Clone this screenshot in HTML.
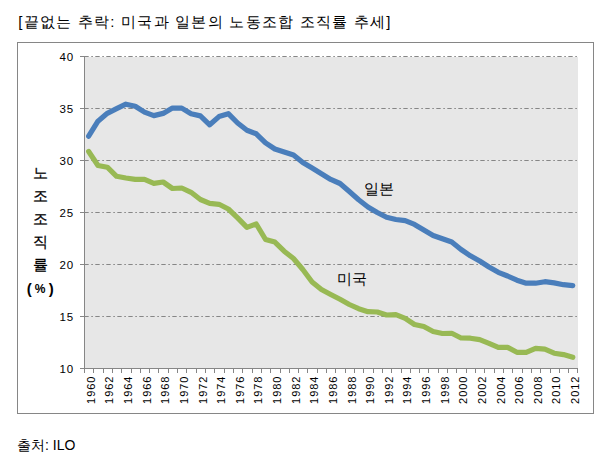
<!DOCTYPE html>
<html><head><meta charset="utf-8"><style>
html,body{margin:0;padding:0;background:#fff;width:611px;height:464px;overflow:hidden}
svg{position:absolute;left:0;top:0;font-family:"Liberation Sans",sans-serif}
</style></head><body>
<svg width="611" height="464" viewBox="0 0 611 464">
<text x="18.3" y="27.3" font-size="15" fill="#000" letter-spacing="1.24">[끝없는 추락: 미국과 일본의 노동조합 조직률 추세]</text>
<rect x="17.5" y="42.5" width="576" height="371" fill="#fff" stroke="#868686" stroke-width="1"/>
<rect x="85" y="57" width="493" height="311" fill="#e7e7e7"/>
<g stroke="#868686" stroke-width="1" stroke-dasharray="4.4 2.6 1.6 2.4"><line x1="84.3" y1="56.5" x2="578" y2="56.5" /><line x1="84.3" y1="108.5" x2="578" y2="108.5" /><line x1="84.3" y1="160.5" x2="578" y2="160.5" /><line x1="84.3" y1="212.5" x2="578" y2="212.5" /><line x1="84.3" y1="264.5" x2="578" y2="264.5" /><line x1="84.3" y1="316.5" x2="578" y2="316.5" /></g>
<g stroke="#868686" stroke-width="1">
<line x1="84.5" y1="56" x2="84.5" y2="373"/>
<line x1="80" y1="368.5" x2="578" y2="368.5"/>
<line x1="80" y1="56.5" x2="84" y2="56.5" /><line x1="80" y1="108.5" x2="84" y2="108.5" /><line x1="80" y1="160.5" x2="84" y2="160.5" /><line x1="80" y1="212.5" x2="84" y2="212.5" /><line x1="80" y1="264.5" x2="84" y2="264.5" /><line x1="80" y1="316.5" x2="84" y2="316.5" /><line x1="80" y1="368.5" x2="84" y2="368.5" /><line x1="84.5" y1="368" x2="84.5" y2="373" /><line x1="93.5" y1="368" x2="93.5" y2="373" /><line x1="103.5" y1="368" x2="103.5" y2="373" /><line x1="112.5" y1="368" x2="112.5" y2="373" /><line x1="121.5" y1="368" x2="121.5" y2="373" /><line x1="131.5" y1="368" x2="131.5" y2="373" /><line x1="140.5" y1="368" x2="140.5" y2="373" /><line x1="149.5" y1="368" x2="149.5" y2="373" /><line x1="158.5" y1="368" x2="158.5" y2="373" /><line x1="168.5" y1="368" x2="168.5" y2="373" /><line x1="177.5" y1="368" x2="177.5" y2="373" /><line x1="186.5" y1="368" x2="186.5" y2="373" /><line x1="196.5" y1="368" x2="196.5" y2="373" /><line x1="205.5" y1="368" x2="205.5" y2="373" /><line x1="214.5" y1="368" x2="214.5" y2="373" /><line x1="224.5" y1="368" x2="224.5" y2="373" /><line x1="233.5" y1="368" x2="233.5" y2="373" /><line x1="242.5" y1="368" x2="242.5" y2="373" /><line x1="252.5" y1="368" x2="252.5" y2="373" /><line x1="261.5" y1="368" x2="261.5" y2="373" /><line x1="270.5" y1="368" x2="270.5" y2="373" /><line x1="280.5" y1="368" x2="280.5" y2="373" /><line x1="289.5" y1="368" x2="289.5" y2="373" /><line x1="298.5" y1="368" x2="298.5" y2="373" /><line x1="307.5" y1="368" x2="307.5" y2="373" /><line x1="317.5" y1="368" x2="317.5" y2="373" /><line x1="326.5" y1="368" x2="326.5" y2="373" /><line x1="335.5" y1="368" x2="335.5" y2="373" /><line x1="345.5" y1="368" x2="345.5" y2="373" /><line x1="354.5" y1="368" x2="354.5" y2="373" /><line x1="363.5" y1="368" x2="363.5" y2="373" /><line x1="373.5" y1="368" x2="373.5" y2="373" /><line x1="382.5" y1="368" x2="382.5" y2="373" /><line x1="391.5" y1="368" x2="391.5" y2="373" /><line x1="401.5" y1="368" x2="401.5" y2="373" /><line x1="410.5" y1="368" x2="410.5" y2="373" /><line x1="419.5" y1="368" x2="419.5" y2="373" /><line x1="428.5" y1="368" x2="428.5" y2="373" /><line x1="438.5" y1="368" x2="438.5" y2="373" /><line x1="447.5" y1="368" x2="447.5" y2="373" /><line x1="456.5" y1="368" x2="456.5" y2="373" /><line x1="466.5" y1="368" x2="466.5" y2="373" /><line x1="475.5" y1="368" x2="475.5" y2="373" /><line x1="484.5" y1="368" x2="484.5" y2="373" /><line x1="494.5" y1="368" x2="494.5" y2="373" /><line x1="503.5" y1="368" x2="503.5" y2="373" /><line x1="512.5" y1="368" x2="512.5" y2="373" /><line x1="522.5" y1="368" x2="522.5" y2="373" /><line x1="531.5" y1="368" x2="531.5" y2="373" /><line x1="540.5" y1="368" x2="540.5" y2="373" /><line x1="550.5" y1="368" x2="550.5" y2="373" /><line x1="559.5" y1="368" x2="559.5" y2="373" /><line x1="568.5" y1="368" x2="568.5" y2="373" /><line x1="577.5" y1="368" x2="577.5" y2="373" />
</g>
<g font-size="11.5" fill="#000" letter-spacing="0.9"><text x="74" y="60.5" text-anchor="end">40</text><text x="74" y="112.5" text-anchor="end">35</text><text x="74" y="164.5" text-anchor="end">30</text><text x="74" y="216.5" text-anchor="end">25</text><text x="74" y="268.5" text-anchor="end">20</text><text x="74" y="320.5" text-anchor="end">15</text><text x="74" y="372.5" text-anchor="end">10</text></g>
<g font-size="11" fill="#000" letter-spacing="1"><text transform="translate(94.86,375.5) rotate(-90)" text-anchor="end">1960</text><text transform="translate(113.48,375.5) rotate(-90)" text-anchor="end">1962</text><text transform="translate(132.09,375.5) rotate(-90)" text-anchor="end">1964</text><text transform="translate(150.71,375.5) rotate(-90)" text-anchor="end">1966</text><text transform="translate(169.33,375.5) rotate(-90)" text-anchor="end">1968</text><text transform="translate(187.95,375.5) rotate(-90)" text-anchor="end">1970</text><text transform="translate(206.57,375.5) rotate(-90)" text-anchor="end">1972</text><text transform="translate(225.19,375.5) rotate(-90)" text-anchor="end">1974</text><text transform="translate(243.81,375.5) rotate(-90)" text-anchor="end">1976</text><text transform="translate(262.44,375.5) rotate(-90)" text-anchor="end">1978</text><text transform="translate(281.06,375.5) rotate(-90)" text-anchor="end">1980</text><text transform="translate(299.68,375.5) rotate(-90)" text-anchor="end">1982</text><text transform="translate(318.30,375.5) rotate(-90)" text-anchor="end">1984</text><text transform="translate(336.92,375.5) rotate(-90)" text-anchor="end">1986</text><text transform="translate(355.54,375.5) rotate(-90)" text-anchor="end">1988</text><text transform="translate(374.16,375.5) rotate(-90)" text-anchor="end">1990</text><text transform="translate(392.77,375.5) rotate(-90)" text-anchor="end">1992</text><text transform="translate(411.39,375.5) rotate(-90)" text-anchor="end">1994</text><text transform="translate(430.01,375.5) rotate(-90)" text-anchor="end">1996</text><text transform="translate(448.63,375.5) rotate(-90)" text-anchor="end">1998</text><text transform="translate(467.25,375.5) rotate(-90)" text-anchor="end">2000</text><text transform="translate(485.88,375.5) rotate(-90)" text-anchor="end">2002</text><text transform="translate(504.50,375.5) rotate(-90)" text-anchor="end">2004</text><text transform="translate(523.12,375.5) rotate(-90)" text-anchor="end">2006</text><text transform="translate(541.74,375.5) rotate(-90)" text-anchor="end">2008</text><text transform="translate(560.36,375.5) rotate(-90)" text-anchor="end">2010</text><text transform="translate(578.98,375.5) rotate(-90)" text-anchor="end">2012</text></g>
<g font-size="15" font-weight="normal" fill="#000" stroke="#000" stroke-width="0.25"><text x="40.5" y="178" text-anchor="middle">노</text><text x="40.5" y="201" text-anchor="middle">조</text><text x="40.5" y="224" text-anchor="middle">조</text><text x="40.5" y="247" text-anchor="middle">직</text><text x="40.5" y="270" text-anchor="middle">률</text><text x="29.3" y="293.5" text-anchor="middle" font-size="15" font-weight="bold" stroke="none">(</text><text x="40.2" y="293" text-anchor="middle" font-size="12" font-weight="bold" stroke="none">%</text><text x="51.3" y="293.5" text-anchor="middle" font-size="15" font-weight="bold" stroke="none">)</text></g>
<polyline points="88.66,136.2 97.97,121.2 107.28,113.3 116.59,108.7 125.90,104.2 135.21,106.2 144.51,112.1 153.82,115.6 163.13,113.4 172.44,108.1 181.75,108.1 191.06,113.8 200.38,115.9 209.69,124.8 219.00,116.6 228.31,113.7 237.62,123.0 246.93,130.2 256.24,133.8 265.55,142.8 274.86,149.0 284.17,152.0 293.48,155.0 302.79,162.6 312.10,168.1 321.40,173.8 330.72,179.4 340.03,183.5 349.34,191.5 358.65,199.8 367.96,207.0 377.27,212.5 386.57,217.3 395.88,219.5 405.19,220.7 414.50,224.4 423.81,230.0 433.12,235.5 442.44,238.8 451.75,242.0 461.06,249.5 470.37,255.8 479.68,261.0 488.99,267.0 498.30,272.3 507.61,276.0 516.91,280.2 526.23,283.2 535.54,283.2 544.85,281.7 554.15,282.9 563.47,284.7 572.78,285.6" fill="none" stroke="#4a7ebb" stroke-width="5.2" stroke-linejoin="round" stroke-linecap="round"/>
<polyline points="88.66,151.5 97.97,165.5 107.28,167.2 116.59,176.3 125.90,178.0 135.21,179.3 144.51,179.3 153.82,183.3 163.13,182.0 172.44,188.5 181.75,188.0 191.06,192.3 200.38,199.5 209.69,203.4 219.00,204.3 228.31,209.0 237.62,217.9 246.93,227.4 256.24,224.0 265.55,239.5 274.86,242.1 284.17,251.2 293.48,258.5 302.79,269.5 312.10,282.0 321.40,289.5 330.72,294.5 340.03,299.3 349.34,304.5 358.65,308.7 367.96,311.7 377.27,312.0 386.57,315.0 395.88,314.6 405.19,318.3 414.50,324.5 423.81,326.5 433.12,331.5 442.44,333.5 451.75,333.3 461.06,338.0 470.37,338.2 479.68,339.6 488.99,343.3 498.30,347.4 507.61,347.4 516.91,352.3 526.23,352.3 535.54,348.3 544.85,349.2 554.15,353.2 563.47,354.6 572.78,357.3" fill="none" stroke="#98b954" stroke-width="5.2" stroke-linejoin="round" stroke-linecap="round"/>
<text x="363.5" y="194" font-size="15" fill="#000">일본</text>
<text x="336.6" y="283.5" font-size="15" fill="#000">미국</text>
<text x="17" y="450" font-size="14" fill="#000">출처: ILO</text>
</svg>
</body></html>
